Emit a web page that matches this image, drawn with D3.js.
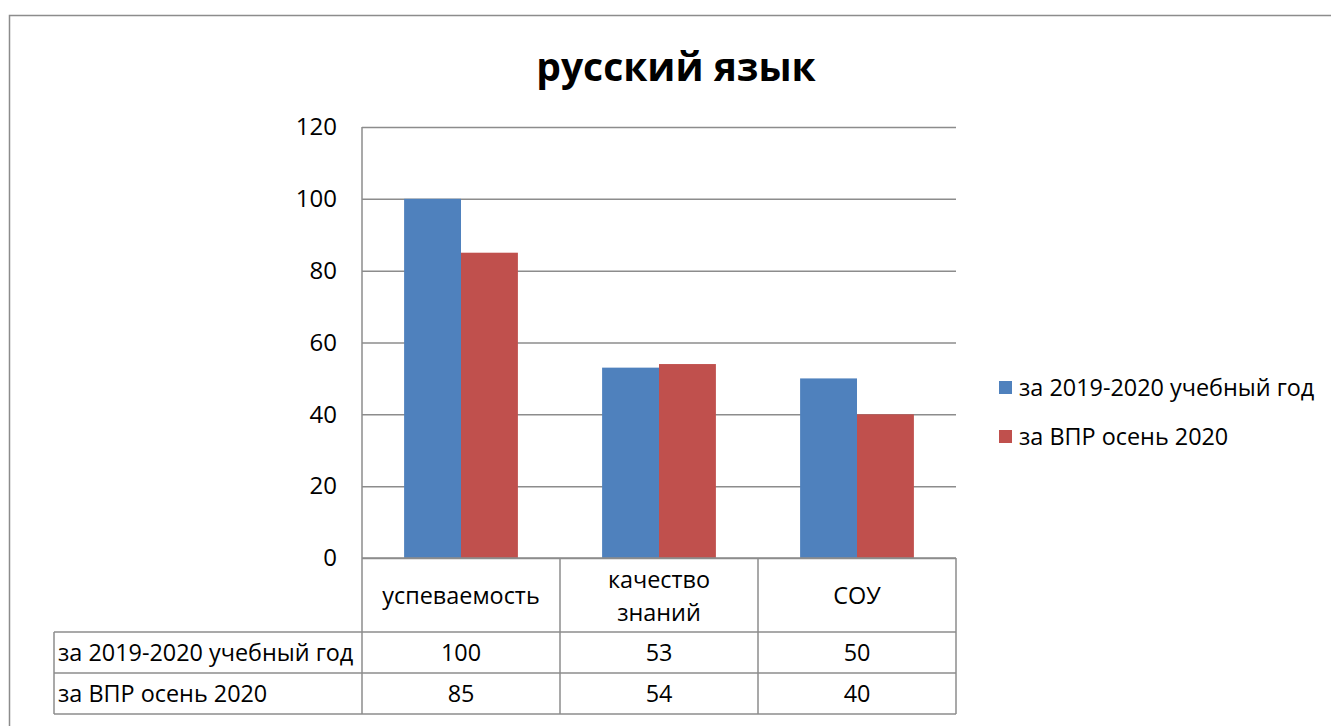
<!DOCTYPE html>
<html><head><meta charset="utf-8">
<script src="https://cdn.jsdelivr.net/npm/d3@7"></script>
<style>
html,body{margin:0;padding:0;background:#fff;}
svg{display:block;}
text{font-family:"Open Sans",sans-serif;fill:#000;}
</style></head>
<body>
<script>
const title = "русский язык";
const categories = [["успеваемость"], ["качество","знаний"], ["СОУ"]];
const seriesNames = ["за 2019-2020 учебный год", "за ВПР осень 2020"];
const series2019 = [100, 53, 50];
const seriesVPR = [85, 54, 40];
const yTicks = [0, 20, 40, 60, 80, 100, 120];
const colors = ["#4f81bd", "#c0504d"];

const W = 1331, H = 726;
const FS = 23.4;
const svg = d3.select("body").append("svg").attr("width", W).attr("height", H);

// outer frame
svg.append("rect").attr("x", 9.5).attr("y", 15.5).attr("width", 1400).attr("height", 800)
  .attr("fill", "none").attr("stroke", "#8c8c8c").attr("stroke-width", 1.5);

const plot = {left: 362, right: 956, top: 127, bottom: 558};
const y = d3.scaleLinear().domain([0, 120]).range([plot.bottom, plot.top]);
const x = d3.scaleBand().domain(d3.range(categories.length)).range([plot.left, plot.right]);
const inner = d3.scaleBand().domain([0, 1]).range([0, x.bandwidth()]).paddingInner(0).paddingOuter(0.74);

// gridlines via axis
const yAxis = d3.axisLeft(y).tickValues(yTicks).tickSize(-(plot.right - plot.left)).tickPadding(25);
const gy = svg.append("g").attr("transform", `translate(${plot.left},0)`).call(yAxis);
gy.select(".domain").remove();
gy.selectAll(".tick line").attr("stroke", "#8c8c8c").attr("stroke-width", 1.5);
gy.selectAll(".tick text").attr("font-size", 24).attr("font-family", "Open Sans").attr("fill", "#000");
// left axis line
svg.append("line").attr("x1", plot.left).attr("x2", plot.left).attr("y1", plot.top).attr("y2", plot.bottom)
  .attr("stroke", "#8c8c8c").attr("stroke-width", 1.5);

// bars
const allSeries = [series2019, seriesVPR];
allSeries.forEach((vals, si) => {
  svg.append("g").selectAll("rect").data(vals).join("rect")
    .attr("x", (d, i) => x(i) + inner(si))
    .attr("y", d => y(d))
    .attr("width", inner.bandwidth())
    .attr("height", d => y(0) - y(d))
    .attr("fill", colors[si]);
});

// data table
const rowBounds = [558, 632, 673, 714];
const tableLeft = 54;
const lineAttr = s => s.attr("stroke", "#8c8c8c").attr("stroke-width", 1.5);
lineAttr(svg.append("line").attr("x1", plot.left).attr("x2", plot.right).attr("y1", rowBounds[0]).attr("y2", rowBounds[0]));
[1, 2, 3].forEach(k => {
  lineAttr(svg.append("line").attr("x1", tableLeft).attr("x2", plot.right).attr("y1", rowBounds[k]).attr("y2", rowBounds[k]));
});
lineAttr(svg.append("line").attr("x1", tableLeft).attr("x2", tableLeft).attr("y1", rowBounds[1]).attr("y2", rowBounds[3]));
d3.range(categories.length + 1).forEach(i => {
  const xv = i < categories.length ? x(i) : plot.right;
  lineAttr(svg.append("line").attr("x1", xv).attr("x2", xv).attr("y1", rowBounds[0]).attr("y2", rowBounds[3]));
});

// category labels
categories.forEach((lines, i) => {
  const cx = x(i) + x.bandwidth() / 2;
  const cy = (rowBounds[0] + rowBounds[1]) / 2 + 1;
  const lh = 33;
  const t = svg.append("text").attr("text-anchor", "middle").attr("font-size", FS);
  lines.forEach((ln, j) => {
    t.append("tspan").attr("x", cx)
      .attr("y", cy + (j - (lines.length - 1) / 2) * lh).attr("dy", "0.35em").text(ln);
  });
});

// series rows
allSeries.forEach((vals, si) => {
  const cy = (rowBounds[si + 1] + rowBounds[si + 2]) / 2;
  svg.append("text").attr("x", tableLeft + 4).attr("y", cy).attr("dy", "0.35em")
    .attr("font-size", FS).text(seriesNames[si]);
  vals.forEach((v, i) => {
    svg.append("text").attr("x", x(i) + x.bandwidth() / 2).attr("y", cy).attr("dy", "0.35em")
      .attr("text-anchor", "middle").attr("font-size", FS).text(v);
  });
});

// legend
seriesNames.forEach((n, si) => {
  const ly = 388 + si * 49;
  svg.append("rect").attr("x", 999).attr("y", ly - 7).attr("width", 13).attr("height", 13).attr("fill", colors[si]);
  svg.append("text").attr("x", 1019).attr("y", ly).attr("dy", "0.35em").attr("font-size", FS).text(n);
});

// title
svg.append("text").attr("x", 676).attr("y", 67).attr("dy", "0.35em").attr("text-anchor", "middle")
  .attr("font-size", 39).attr("font-weight", "bold").text(title);
</script>
</body></html>
